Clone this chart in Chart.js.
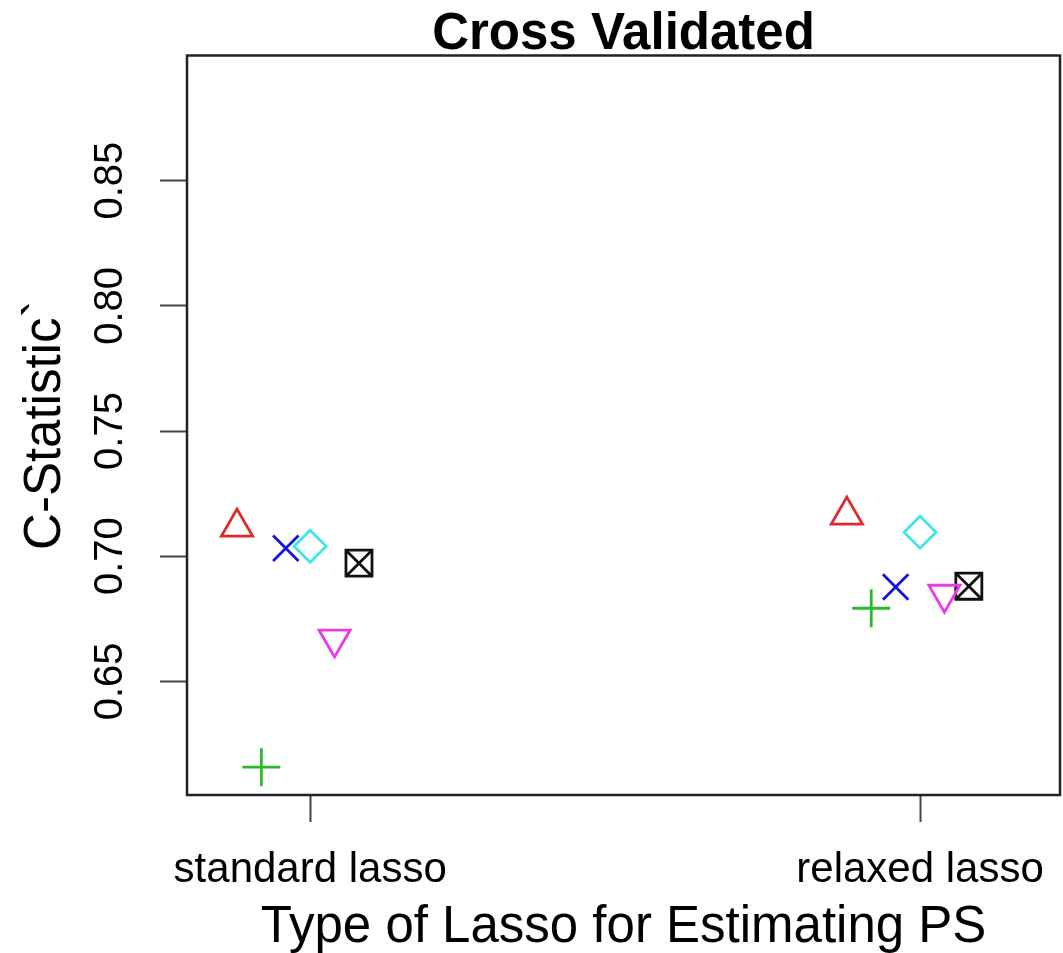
<!DOCTYPE html>
<html>
<head>
<meta charset="utf-8">
<title>Cross Validated</title>
<script src="https://cdn.jsdelivr.net/npm/chart.js@4.4.0/dist/chart.umd.min.js"></script>
<style>
  html, body { margin: 0; padding: 0; background: #fff; }
  #cstat { display: block; }
</style>
</head>
<body>
<canvas id="cstat" width="1063" height="953"></canvas>
<script>
// C-statistic of each PS model, by type of lasso
const lassoTypes = ['standard lasso', 'relaxed lasso'];
const yTicks = [0.65, 0.70, 0.75, 0.80, 0.85];

const triUp = [0.7116, 0.7164];
const plus = [0.6157, 0.6792];
const cross = [0.7032, 0.6877];
const diamond = [0.7040, 0.7096];
const triDown = [0.6669, 0.6848];
const boxCross = [0.6972, 0.6880];

// marker look for every series; shift spreads them around each lasso type
const series = [
    { values: triUp,    shift: -0.12, color: '#dd2a2a', style: 'triangle', radius: 18, rotation: 0 },
    { values: plus,     shift: -0.08, color: '#2cb82c', style: 'cross',    radius: 19, rotation: 0 },
    { values: cross,    shift: -0.04, color: '#1414dc', style: 'crossRot', radius: 18, rotation: 0 },
    { values: diamond,  shift:  0.00, color: '#3ee6e6', style: 'rectRot',  radius: 16, rotation: 0 },
    { values: triDown,  shift:  0.04, color: '#e83ce8', style: 'triangle', radius: 18, rotation: 180 },
    { values: boxCross, shift:  0.08, color: '#111111', style: 'rect',     radius: 18.4, rotation: 0 },
    { values: boxCross, shift:  0.08, color: '#111111', style: 'crossRot', radius: 18.4, rotation: 0 }
];

const datasets = series.map(function(s) {
    return {
        data: s.values.map(function(v, i) { return { x: i + 1 + s.shift, y: v }; }),
        pointStyle: s.style,
        pointRadius: s.radius,
        pointHoverRadius: s.radius,
        pointRotation: s.rotation,
        pointBorderWidth: 2.8,
        pointBorderColor: s.color,
        pointBackgroundColor: 'rgba(0,0,0,0)',
        showLine: false
    };
});

// box around the plotting region
const boxFrame = {
    id: 'boxFrame',
    beforeDatasetsDraw(chart) {
        const { ctx, chartArea: a } = chart;
        ctx.save();
        ctx.strokeStyle = '#222';
        ctx.lineWidth = 2.5;
        ctx.strokeRect(a.left, a.top, a.right - a.left, a.bottom - a.top);
        ctx.restore();
    }
};

Chart.defaults.font.family = "'Liberation Sans', Arial, sans-serif";
Chart.defaults.color = '#000';

new Chart(document.getElementById('cstat').getContext('2d'), {
    type: 'scatter',
    data: { datasets: datasets },
    options: {
        responsive: false,
        animation: false,
        layout: {
            autoPadding: false,
            padding: { top: 0, right: 3, bottom: 0, left: 0 }
        },
        scales: {
            x: {
                type: 'linear',
                min: 0.798,
                max: 2.2295,
                afterBuildTicks: function(scale) {
                    scale.ticks = lassoTypes.map(function(_, i) { return { value: i + 1 }; });
                },
                afterFit: function(scale) {
                    scale.height = 158;
                    scale.paddingLeft = 0;
                    scale.paddingRight = 0;
                },
                ticks: {
                    font: { size: 42 },
                    padding: 23,
                    maxRotation: 0,
                    callback: function(value) { return lassoTypes[value - 1]; }
                },
                grid: {
                    drawOnChartArea: false,
                    tickLength: 27,
                    tickWidth: 2,
                    tickColor: '#444'
                },
                border: { display: false },
                title: {
                    display: true,
                    text: 'Type of Lasso for Estimating PS',
                    font: { size: 51, lineHeight: 1 },
                    padding: { top: 0, bottom: 0 }
                }
            },
            y: {
                min: 0.6046,
                max: 0.90,
                afterBuildTicks: function(scale) {
                    scale.ticks = yTicks.map(function(v) { return { value: v }; });
                },
                afterFit: function(scale) {
                    scale.width = 187;
                    scale.paddingTop = 0;
                    scale.paddingBottom = 0;
                },
                ticks: {
                    font: { size: 40 },
                    padding: 10,
                    minRotation: 90,
                    maxRotation: 90,
                    crossAlign: 'center',
                    callback: function(value) { return value.toFixed(2); }
                },
                grid: {
                    drawOnChartArea: false,
                    tickLength: 27,
                    tickWidth: 2,
                    tickColor: '#444'
                },
                border: { display: false },
                title: {
                    display: true,
                    text: 'C-Statistic`',
                    font: { size: 51, lineHeight: 1 },
                    padding: { top: 20.5, bottom: 0 }
                }
            }
        },
        plugins: {
            legend: { display: false },
            tooltip: { enabled: false },
            title: {
                display: true,
                fullSize: false,
                text: 'Cross Validated',
                font: { size: 51, weight: 'bold', lineHeight: 0.5 },
                padding: { top: 22, bottom: 8 }
            }
        }
    },
    plugins: [boxFrame]
});
</script>
</body>
</html>
